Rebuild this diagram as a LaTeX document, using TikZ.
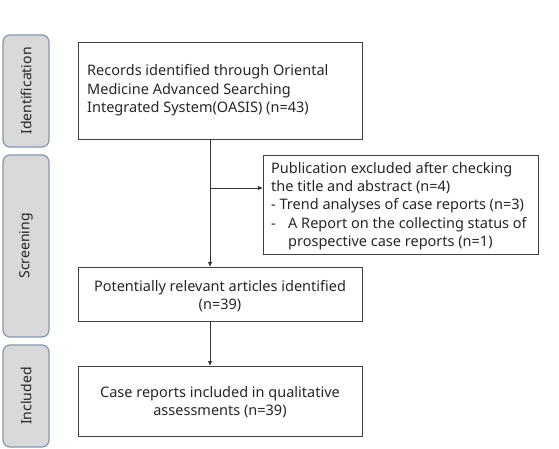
\documentclass[tikz,border=0pt]{standalone}
\usepackage{fontspec}
\setmainfont{Noto Sans}
\usetikzlibrary{arrows.meta}
\definecolor{tabfill}{HTML}{D9D9D9}
\definecolor{tabline}{HTML}{8497B0}
\definecolor{txt}{HTML}{262626}
\begin{document}
\begin{tikzpicture}[x=1pt,y=-1pt,
  tab/.style={draw=tabline,fill=tabfill,line width=1.2pt,rounded corners=7pt},
  tabtext/.style={rotate=90,font=\fontsize{14}{16}\selectfont,text=txt},
  box/.style={draw=black!75,line width=0.8pt},
  btext/.style={font=\fontsize{14.5}{18.4}\selectfont,text=txt,inner sep=0pt},
  arr/.style={-{Latex[length=5pt,width=4.5pt]},line width=0.8pt,draw=black!80}]
\useasboundingbox (0,0) rectangle (559,449);
% tabs
\draw[tab] (3,35) rectangle (49,147);
\node[tabtext] (tid) at (26,91) {Identification};
\draw[tab] (3,155) rectangle (49,337);
\node[tabtext] (tsc) at (26,246) {Screening};
\draw[tab] (3,345) rectangle (49,447);
\node[tabtext] (tin) at (26,396) {Included};
% boxes
\draw[box] (78,42) rectangle (362,139);
\node[btext,anchor=west,align=left] (b1t) at (87,90.5) {Records identified through Oriental\\Medicine Advanced Searching\\Integrated System(OASIS) (n=43)};
\coordinate (b1) at (210,139);
\draw[box] (263,155) rectangle (538,254);
\node[btext,anchor=west,align=left] (b2t) at (271,206) {Publication excluded after checking\\the title and abstract (n=4)\\- Trend analyses of case reports (n=3)\\\makebox[17pt][l]{-}A Report on the collecting status of\\\hspace{17pt}prospective case reports (n=1)};
\coordinate (b2) at (263,188);
\draw[box] (78,267) rectangle (362,321);
\node[btext,align=center] (b3t) at (220,296) {Potentially relevant articles identified\\(n=39)};
\coordinate (b3) at (210,267);
\coordinate (b3b) at (210,321);
\draw[box] (78,366) rectangle (362,436);
\node[btext,align=center] (b4t) at (220,402) {Case reports included in qualitative\\assessments (n=39)};
\coordinate (b4) at (210,366);
% connectors
\draw[arr] (b1) -- (b3);
\coordinate (br) at (210,188);
\draw[arr] (br) -- (b2);
\draw[arr] (b3b) -- (b4);
\end{tikzpicture}
\end{document}
